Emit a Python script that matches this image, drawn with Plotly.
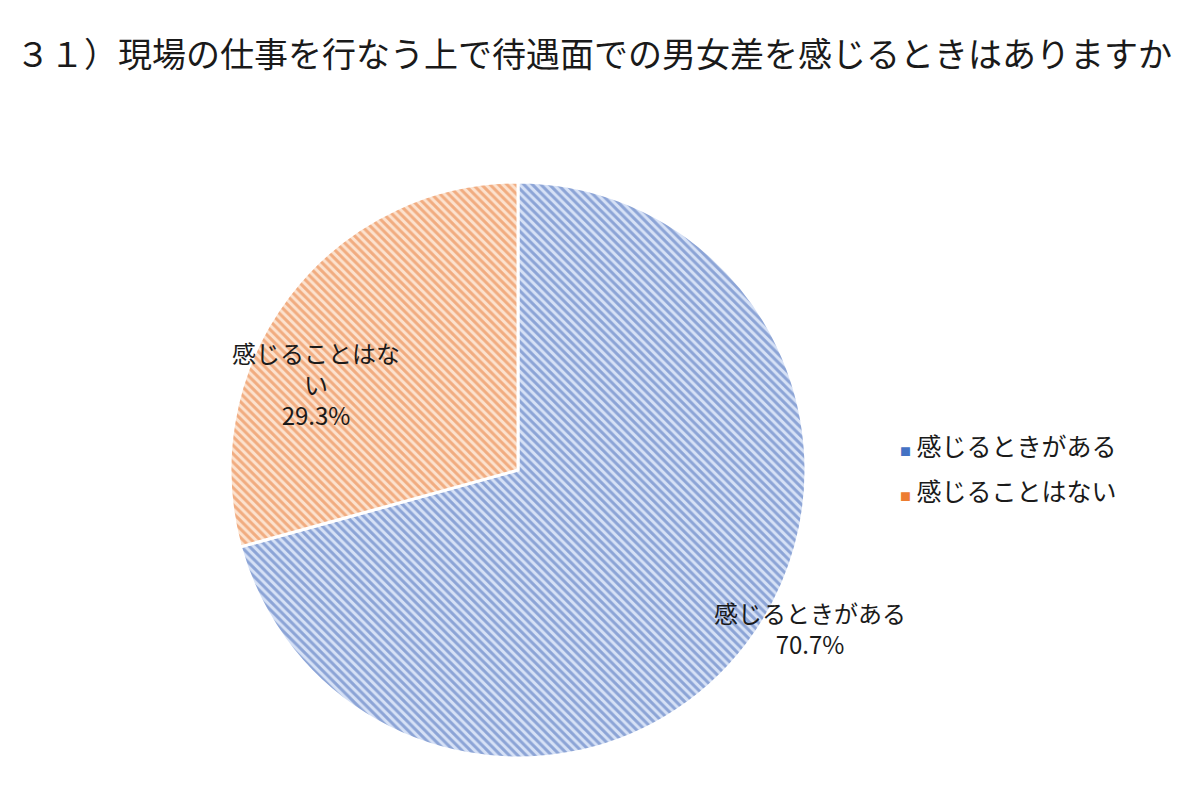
import math
import plotly.graph_objects as go

# データ
labels = ["感じるときがある", "感じることはない"]
values = [70.7, 29.3]
label_texts = ["感じるときがある<br>70.7%", "感じることはな<br>い<br>29.3%"]
title = "３１）現場の仕事を行なう上で待遇面での男女差を感じるときはありますか"

fg_colors = ["#4267B5", "#E57532"]
bg_colors = ["#D6E1F6", "#FCE2CE"]
legend_colors = ["#4472C4", "#ED7D31"]
font = "Noto Sans CJK JP"

W, H = 1200, 798
cx, cy, r = 510, 462, 288
dy_fix = 10  # テキストの縦位置補正

fig = go.Figure(go.Pie(
    labels=labels,
    values=values,
    sort=False,
    direction="clockwise",
    rotation=0,
    textinfo="none",
    hoverinfo="label+percent",
    showlegend=False,
    marker=dict(
        colors=bg_colors,
        line=dict(color="white", width=3),
        pattern=dict(shape="\\", fgcolor=fg_colors, bgcolor=bg_colors,
                     size=6, solidity=0.5, fillmode="overlay"),
    ),
    domain=dict(x=[(cx - r) / W, (cx + r) / W],
                y=[(H - cy - r) / H, (H - cy + r) / H]),
))

# ラベル（スライスの角度から配置）
pc_x, pc_y = 518, 470
radial = [1.157, 0.76]
offset = [-8.6, -14.6]
total = sum(values)
start = 0.0
annotations = []
for i, v in enumerate(values):
    mid = start + v / total * 360 / 2
    start += v / total * 360
    ang = math.radians(mid + offset[i])
    px = pc_x + radial[i] * r * math.sin(ang) - 8
    py = pc_y - radial[i] * r * math.cos(ang) - dy_fix
    annotations.append(dict(
        x=px / W, y=1 - py / H, xref="paper", yref="paper",
        xanchor="center", yanchor="middle",
        text=label_texts[i], showarrow=False, align="center",
        font=dict(family=font, size=24, color="#1a1a1a"),
    ))

# 凡例
for i, lab in enumerate(labels):
    annotations.append(dict(
        x=890 / W, y=1 - (447 + 45 * i - dy_fix) / H, xref="paper", yref="paper",
        xanchor="left", yanchor="middle", showarrow=False,
        text=f"<span style='color:{legend_colors[i]};font-size:11px'>■</span> {lab}",
        font=dict(family=font, size=25, color="#1a1a1a"),
    ))

fig.update_layout(
    width=W, height=H,
    margin=dict(l=0, r=0, t=0, b=0),
    paper_bgcolor="white",
    title=dict(text=title, x=8 / W, xanchor="left", y=1 - (57 - dy_fix) / H, yanchor="middle",
               font=dict(family=font, size=34, color="#1a1a1a")),
    annotations=annotations,
)

fig.write_html("out.html")
